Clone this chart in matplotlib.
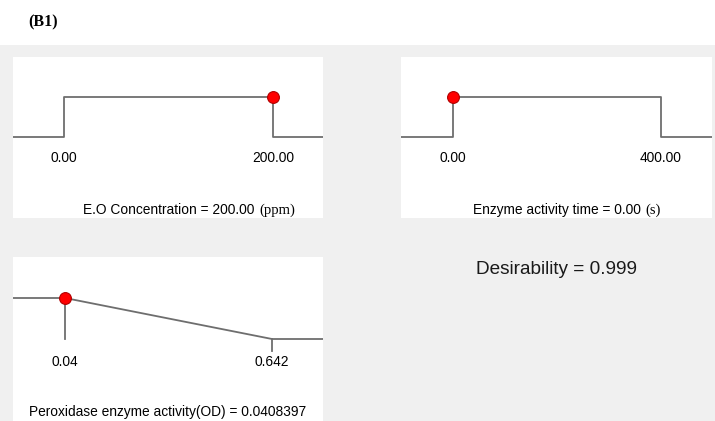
import matplotlib.pyplot as plt
import numpy as np

plt.rcParams['font.family'] = ['Liberation Sans', 'DejaVu Sans']

# factor / response settings (low, high, chosen value)
conc_range = [0.00, 200.00]
conc_value = 200.00
time_range = [0.00, 400.00]
time_value = 0.00
pod_range = [0.04, 0.642]
pod_value = 0.0408397
desirability = 0.999

W, H = 715, 421
LINE = '#6e6e6e'
BG = '#f0f0f0'

fig = plt.figure(figsize=(W / 100, H / 100), dpi=100)
fig.patch.set_facecolor('white')

# grey backdrop under the panels
back = fig.add_axes([0, 0, 1, (H - 45) / H])
back.set_facecolor(BG)
back.set_xticks([])
back.set_yticks([])
for s in back.spines.values():
    s.set_visible(False)

fig.text(28 / W, 1 - 22 / H, '(B1)', family='Liberation Serif', weight='bold',
         fontsize=11.5, va='center', ha='left')


def panel(x0, y0, x1, y1):
    ax = fig.add_axes([x0 / W, 1 - y1 / H, (x1 - x0) / W, (y1 - y0) / H])
    ax.set_facecolor('white')
    ax.set_xticks([])
    ax.set_yticks([])
    for s in ax.spines.values():
        s.set_visible(False)
    return ax


def limits(lo, hi, px_lo, px_hi, left, right):
    k = (hi - lo) / (px_hi - px_lo)
    return lo - (px_lo - left) * k, hi + (right - px_hi) * k


def ylimits(px_one, px_zero, top, bottom):
    k = 1.0 / (px_zero - px_one)
    return -(bottom - px_zero) * k, 1 + (px_one - top) * k


def marker(ax, x, y):
    ax.plot([x], [y], 'o', ms=8.5, mfc='#ff0000', mec='#b00000', mew=0.8,
            zorder=5, clip_on=False)


# E.O concentration: in-range goal
ax1 = panel(13, 57, 323, 218)
xl = limits(conc_range[0], conc_range[1], 64, 273, 13, 323)
ax1.set_xlim(xl)
ax1.set_ylim(ylimits(97, 137, 57, 218))
lo, hi = conc_range
ax1.plot([xl[0], lo, lo, hi, hi, xl[1]], [0, 0, 1, 1, 0, 0], color=LINE, lw=1.3)
marker(ax1, conc_value, 1)
for v in conc_range:
    ax1.text(v, -0.52, f'{v:.2f}', ha='center', va='center', fontsize=9.9)
t1 = ax1.text(0.225, 0.05, f'E.O Concentration = {conc_value:.2f}',
              transform=ax1.transAxes, fontsize=9.9, va='center', ha='left')
ax1.annotate('(ppm)', xy=(1, 0), xycoords=t1, xytext=(4, 0),
             textcoords='offset points', family='Liberation Serif',
             fontsize=10.5, va='bottom', ha='left')

# enzyme activity time: in-range goal
ax2 = panel(401, 57, 712, 218)
xl = limits(time_range[0], time_range[1], 453, 661, 401, 712)
ax2.set_xlim(xl)
ax2.set_ylim(ylimits(97, 137, 57, 218))
lo, hi = time_range
ax2.plot([xl[0], lo, lo, hi, hi, xl[1]], [0, 0, 1, 1, 0, 0], color=LINE, lw=1.3)
marker(ax2, time_value, 1)
for v in time_range:
    ax2.text(v, -0.52, f'{v:.2f}', ha='center', va='center', fontsize=9.9)
t2 = ax2.text(0.232, 0.05, f'Enzyme activity time = {time_value:.2f}',
              transform=ax2.transAxes, fontsize=9.9, va='center', ha='left')
ax2.annotate('(s)', xy=(1, 0), xycoords=t2, xytext=(3, 0),
             textcoords='offset points', family='Liberation Serif',
             fontsize=10.5, va='bottom', ha='left')

# peroxidase activity: minimise goal
ax3 = panel(13, 257, 323, 421)
xl = limits(pod_range[0], pod_range[1], 65, 272, 13, 323)
ax3.set_xlim(xl)
ax3.set_ylim(ylimits(298, 339, 257, 421))
lo, hi = pod_range
ax3.plot([xl[0], lo, hi, xl[1]], [1, 1, 0, 0], color=LINE, lw=1.3)
ax3.plot([lo, lo], [1, 0], color=LINE, lw=1.3)
ax3.plot([hi, hi], [0, -0.3], color=LINE, lw=1.3)
d_pod = 1 - (pod_value - lo) / (hi - lo)
marker(ax3, pod_value, d_pod)
ax3.text(lo, -0.55, f'{lo:g}', ha='center', va='center', fontsize=9.9)
ax3.text(hi, -0.55, f'{hi:g}', ha='center', va='center', fontsize=9.9)
ax3.text(0.5, 0.055, f'Peroxidase enzyme activity(OD) = {pod_value:.7f}',
         transform=ax3.transAxes, fontsize=9.9, va='center', ha='center')

fig.text(556 / W, 1 - 270 / H, f'Desirability = {desirability:.3f}',
         fontsize=13.7, ha='center', va='center', color='#1a1a1a')

fig.savefig('out.png', dpi=100)
